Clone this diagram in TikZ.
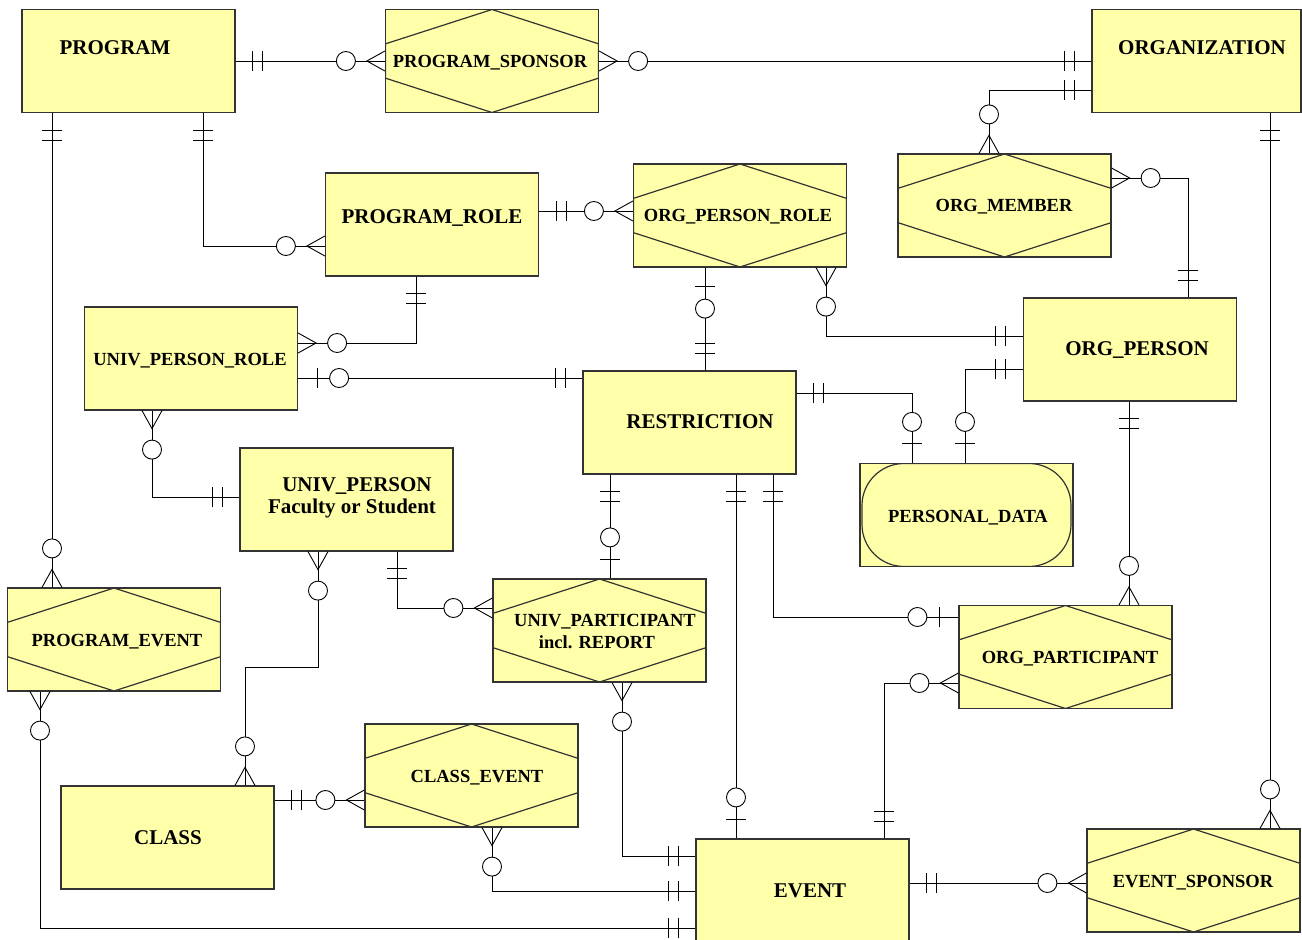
\documentclass[tikz,border=0pt]{standalone}
\usepackage{fontspec}
\setmainfont{Liberation Serif}
\usetikzlibrary{calc}

\definecolor{erfill}{HTML}{FFFFAA}
\definecolor{erline}{HTML}{333333}

\tikzset{
  box/.style={draw=erline, line width=1.2pt, fill=erfill, minimum width=213pt,
    minimum height=103pt, inner sep=0pt},
  rel/.style={box, path picture={
      \coordinate (hn) at (path picture bounding box.north);
      \coordinate (hs) at (path picture bounding box.south);
      \coordinate (hne) at (path picture bounding box.north east);
      \coordinate (hse) at (path picture bounding box.south east);
      \coordinate (hnw) at (path picture bounding box.north west);
      \coordinate (hsw) at (path picture bounding box.south west);
      \draw[line width=1.2pt] (hn) -- ($(hne)!1/3!(hse)$) -- ($(hne)!2/3!(hse)$)
        -- (hs) -- ($(hsw)!1/3!(hnw)$) -- ($(hsw)!2/3!(hnw)$) -- cycle;}},
  roundrel/.style={box, path picture={
      \draw[line width=1.2pt, rounded corners=42pt]
        ([xshift=2pt]path picture bounding box.south west) rectangle
        ([xshift=-2pt]path picture bounding box.north east);}},
  elabel/.style={inner sep=0pt, font=\bfseries\fontsize{21}{22}\selectfont,
    text height=14pt, text depth=0pt},
  rlabel/.style={inner sep=0pt, font=\bfseries\fontsize{18.5}{22}\selectfont,
    text height=12.3pt, text depth=0pt},
  % ends of the relationship lines
  pics/one/.style={code={\draw (17,-10) -- (17,10) (27,-10) -- (27,10);}},
  pics/zone/.style={code={\draw (19,-10) -- (19,10); \draw[fill=white] (41,0) circle (9.5);}},
  pics/zmany/.style={code={\draw (0,-10) -- (18,0) -- (0,10); \draw[fill=white] (39,0) circle (9.5);}},
}

\begin{document}
\begin{tikzpicture}[x=1pt, y=-1pt, line width=0.9pt]
\useasboundingbox (0,0) rectangle (1302,940);

% entities and relationships
\node[box] (prog) at (128.5,61) {};
\node[rel] (psp) at (492,61) {};
\node[box, minimum width=209pt] (org) at (1196.5,61) {};
\node[box] (prole) at (432,224.5) {};
\node[rel] (opr) at (740,215.5) {};
\node[rel] (omem) at (1004.5,205.5) {};
\node[box] (oper) at (1130,349.5) {};
\node[box] (uprole) at (191,358.5) {};
\node[box] (restr) at (689.5,422.5) {};
\node[roundrel] (pdata) at (966.5,515) {};
\node[box] (uper) at (346.5,499.5) {};
\node[rel] (pevent) at (114,639.5) {};
\node[rel] (upart) at (599.5,630.5) {};
\node[rel] (opart) at (1065.5,657) {};
\node[box] (class) at (167.5,837.5) {};
\node[rel] (cevent) at (471.5,775.5) {};
\node[box] (event) at (802.5,890.5) {};
\node[rel] (esp) at (1193.5,880.5) {};

% labels
\node[elabel] (prog-t) at (115,47) {PROGRAM};
\node[rlabel] (psp-t) at (490,61) {PROGRAM\_SPONSOR};
\node[elabel] (org-t) at (1202,47) {ORGANIZATION};
\node[elabel] (prole-t) at (432,216) {PROGRAM\_ROLE};
\node[rlabel] (opr-t) at (738,215) {ORG\_PERSON\_ROLE};
\node[rlabel] (omem-t) at (1004,205) {ORG\_MEMBER};
\node[elabel] (oper-t) at (1137,348) {ORG\_PERSON};
\node[rlabel] (uprole-t) at (190,359) {UNIV\_PERSON\_ROLE};
\node[elabel] (restr-t) at (700,421) {RESTRICTION};
\node[rlabel] (pdata-t) at (968,516) {PERSONAL\_DATA};
\node[inner sep=0pt, align=center, font=\bfseries\fontsize{21}{22}\selectfont]
  (uper-t) at (352,498) {\hspace*{10pt}UNIV\_PERSON\\Faculty or Student};
\node[inner sep=0pt, align=center, font=\bfseries\fontsize{18.5}{22}\selectfont]
  (upart-t) at (605,631) {UNIV\_PARTICIPANT\\incl. REPORT\hspace*{16pt}};
\node[rlabel] (opart-t) at (1070,657) {ORG\_PARTICIPANT};
\node[rlabel] (pevent-t) at (117,640) {PROGRAM\_EVENT};
\node[elabel] (class-t) at (168,837) {CLASS};
\node[rlabel] (cevent-t) at (477,776) {CLASS\_EVENT};
\node[elabel] (event-t) at (810,890) {EVENT};
\node[rlabel] (esp-t) at (1193,881) {EVENT\_SPONSOR};

% relationship lines
\draw (prog.east) -- (psp.west);
\path (prog.east) pic {one} (psp.west) pic[rotate=180] {zmany};
\draw (psp.east) -- (org.west);
\path (psp.east) pic {zmany} (org.west) pic[rotate=180] {one};
\draw (org.west |- 0,90) -| (omem.north -| 989,0);
\path (org.west |- 0,90) pic[rotate=180] {one} (omem.north -| 989,0) pic[rotate=90] {zmany};
\draw (omem.east |- 0,178) -| (oper.north -| 1188,0);
\path (omem.east |- 0,178) pic {zmany} (oper.north -| 1188,0) pic[rotate=90] {one};
\draw (org.south -| 1270,0) -- (esp.north -| 1270,0);
\path (org.south -| 1270,0) pic[rotate=-90] {one} (esp.north -| 1270,0) pic[rotate=90] {zmany};
\draw (prog.south -| 203,0) |- (prole.west |- 0,246);
\path (prog.south -| 203,0) pic[rotate=-90] {one} (prole.west |- 0,246) pic[rotate=180] {zmany};
\draw (prog.south -| 52,0) -- (pevent.north -| 52,0);
\path (prog.south -| 52,0) pic[rotate=-90] {one} (pevent.north -| 52,0) pic[rotate=90] {zmany};
\draw (prole.east |- 0,211) -- (opr.west |- 0,211);
\path (prole.east |- 0,211) pic {one} (opr.west |- 0,211) pic[rotate=180] {zmany};
\draw (prole.south -| 416,0) |- (uprole.east |- 0,343);
\path (prole.south -| 416,0) pic[rotate=-90] {one} (uprole.east |- 0,343) pic {zmany};
\draw (opr.south -| 705,0) -- (restr.north -| 705,0);
\path (opr.south -| 705,0) pic[rotate=-90] {zone} (restr.north -| 705,0) pic[rotate=90] {one};
\draw (opr.south -| 826,0) |- (oper.west |- 0,336);
\path (opr.south -| 826,0) pic[rotate=-90] {zmany} (oper.west |- 0,336) pic[rotate=180] {one};
\draw (oper.west |- 0,369) -| (pdata.north -| 965,0);
\path (oper.west |- 0,369) pic[rotate=180] {one} (pdata.north -| 965,0) pic[rotate=90] {zone};
\draw (restr.east |- 0,393) -| (pdata.north -| 912,0);
\path (restr.east |- 0,393) pic {one} (pdata.north -| 912,0) pic[rotate=90] {zone};
\draw (uprole.east |- 0,378) -- (restr.west |- 0,378);
\path (uprole.east |- 0,378) pic {zone} (restr.west |- 0,378) pic[rotate=180] {one};
\draw (uprole.south -| 152,0) |- (uper.west |- 0,497);
\path (uprole.south -| 152,0) pic[rotate=-90] {zmany} (uper.west |- 0,497) pic[rotate=180] {one};
\draw (uper.south -| 318,0) |- (245,667) -- (class.north -| 245,0);
\path (uper.south -| 318,0) pic[rotate=-90] {zmany} (class.north -| 245,0) pic[rotate=90] {zmany};
\draw (uper.south -| 397,0) |- (upart.west |- 0,608);
\path (uper.south -| 397,0) pic[rotate=-90] {one} (upart.west |- 0,608) pic[rotate=180] {zmany};
\draw (restr.south -| 610,0) -- (upart.north -| 610,0);
\path (restr.south -| 610,0) pic[rotate=-90] {one} (upart.north -| 610,0) pic[rotate=90] {zone};
\draw (restr.south -| 736,0) -- (event.north -| 736,0);
\path (restr.south -| 736,0) pic[rotate=-90] {one} (event.north -| 736,0) pic[rotate=90] {zone};
\draw (restr.south -| 773,0) |- (opart.west |- 0,617);
\path (restr.south -| 773,0) pic[rotate=-90] {one} (opart.west |- 0,617) pic[rotate=180] {zone};
\draw (upart.south -| 622,0) |- (event.west |- 0,856);
\path (upart.south -| 622,0) pic[rotate=-90] {zmany} (event.west |- 0,856) pic[rotate=180] {one};
\draw (oper.south -| 1129,0) -- (opart.north -| 1129,0);
\path (oper.south -| 1129,0) pic[rotate=-90] {one} (opart.north -| 1129,0) pic[rotate=90] {zmany};
\draw (opart.west |- 0,683) -| (event.north -| 884,0);
\path (opart.west |- 0,683) pic[rotate=180] {zmany} (event.north -| 884,0) pic[rotate=90] {one};
\draw (event.east |- 0,883) -- (esp.west |- 0,883);
\path (event.east |- 0,883) pic {one} (esp.west |- 0,883) pic[rotate=180] {zmany};
\draw (class.east |- 0,800) -- (cevent.west |- 0,800);
\path (class.east |- 0,800) pic {one} (cevent.west |- 0,800) pic[rotate=180] {zmany};
\draw (cevent.south -| 492,0) |- (event.west |- 0,891);
\path (cevent.south -| 492,0) pic[rotate=-90] {zmany} (event.west |- 0,891) pic[rotate=180] {one};
\draw (pevent.south -| 40,0) |- (event.west |- 0,928);
\path (pevent.south -| 40,0) pic[rotate=-90] {zmany} (event.west |- 0,928) pic[rotate=180] {one};
\end{tikzpicture}
\end{document}
